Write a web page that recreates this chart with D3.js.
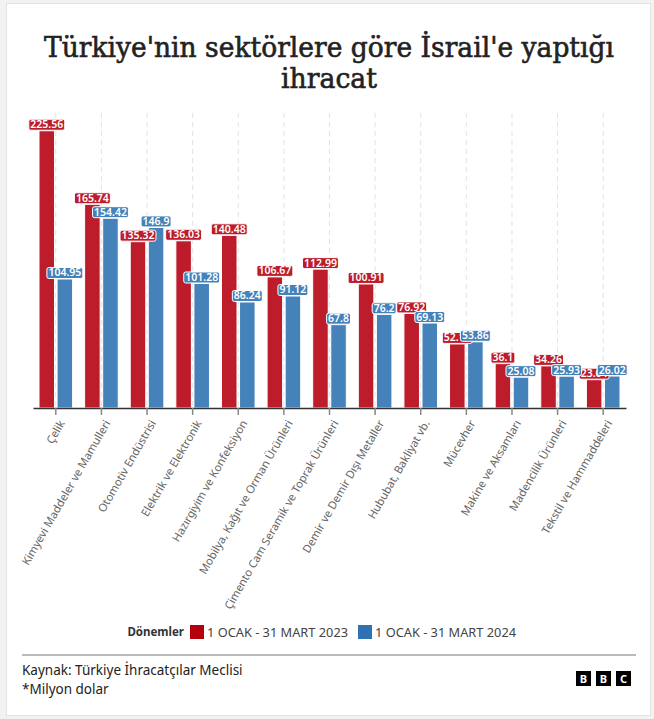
<!DOCTYPE html>
<html>
<head>
<meta charset="utf-8">
<script src="https://cdn.jsdelivr.net/npm/d3@7"></script>
<style>
  html, body { margin: 0; padding: 0; background: #f2f2f2; }
  svg { display: block; }
</style>
</head>
<body>
<svg id="chart" width="654" height="719"></svg>
<script>
const categories = [
  "Çelik",
  "Kimyevi Maddeler ve Mamulleri",
  "Otomotiv Endüstrisi",
  "Elektrik ve Elektronik",
  "Hazırgiyim ve Konfeksiyon",
  "Mobilya, Kağıt ve Orman Ürünleri",
  "Çimento Cam Seramik ve Toprak Ürünleri",
  "Demir ve Demir Dışı Metaller",
  "Hububat, Bakliyat vb.",
  "Mücevher",
  "Makine ve Aksamları",
  "Madencilik Ürünleri",
  "Tekstil ve Hammaddeleri"
];
const series2023 = [225.56, 165.74, 135.32, 136.03, 140.48, 106.67, 112.99, 100.91, 76.92, 52.13, 36.1, 34.26, 23.04];
const series2024 = [104.95, 154.42, 146.9, 101.28, 86.24, 91.12, 67.8, 76.2, 69.13, 53.86, 25.08, 25.93, 26.02];
const seriesNames = ["1 OCAK - 31 MART 2023", "1 OCAK - 31 MART 2024"];
const barColors = ["#bd1d2b", "#4582b9"];
const legendColors = ["#b5000e", "#2f71b2"];
const titleLines = ["Türkiye'nin sektörlere göre İsrail'e yaptığı", "ihracat"];
const legendTitle = "Dönemler";
const sourceLines = ["Kaynak: Türkiye İhracatçılar Meclisi", "*Milyon dolar"];

const seriesData = [series2023, series2024];
const svg = d3.select("#chart");

// card
svg.append("rect").attr("x", 6.5).attr("y", 3.5).attr("width", 644).attr("height", 712)
  .attr("fill", "#fff").attr("stroke", "#e3e3e3");

// title
const tLens = [570, 96];
titleLines.forEach((t, i) => {
  svg.append("text").attr("x", 329).attr("y", 57 + i * 31)
    .attr("text-anchor", "middle")
    .attr("font-family", "'DejaVu Serif', serif")
    .attr("font-size", 27).attr("font-weight", 400)
    .attr("fill", "#222").attr("stroke", "#222").attr("stroke-width", 0.6)
    .attr("textLength", tLens[i]).attr("lengthAdjust", "spacingAndGlyphs")
    .text(t);
});

const x0 = d3.scaleBand().domain(categories).range([33, 626]).padding(0);
const x1 = d3.scaleBand().domain([0, 1]).range([6, x0.bandwidth() - 6]).paddingInner(0.14);
const y = d3.scaleLinear().domain([0, 240]).range([408, 113]);

// gridlines
svg.append("g").selectAll("line").data(categories).join("line")
  .attr("x1", d => x0(d) + x0.bandwidth() / 2).attr("x2", d => x0(d) + x0.bandwidth() / 2)
  .attr("y1", y.range()[1]).attr("y2", y(0))
  .attr("stroke", "#e2e2e2").attr("stroke-dasharray", "5,4");

// bars
const groups = svg.append("g").selectAll("g").data(categories).join("g")
  .attr("transform", d => `translate(${x0(d)},0)`);
groups.selectAll("rect").data((d, i) => [0, 1].map(s => ({ s, v: seriesData[s][i] }))).join("rect")
  .attr("x", d => x1(d.s)).attr("width", x1.bandwidth())
  .attr("y", d => y(d.v)).attr("height", d => y(0) - y(d.v))
  .attr("fill", d => barColors[d.s]).attr("stroke", "#fff").attr("stroke-width", 1);

// axis
const axis = d3.axisBottom(x0).tickSize(7).tickSizeOuter(0).tickPadding(4);
const ax = svg.append("g").attr("transform", `translate(0,${y(0)})`).call(axis);
ax.select(".domain").attr("stroke", "#333").attr("stroke-width", 1.5);
ax.selectAll(".tick line").attr("stroke", "#888").attr("stroke-width", 1.5);
ax.selectAll(".tick text")
  .attr("font-family", "'Noto Sans', sans-serif").attr("font-size", 11.2).attr("fill", "#666")
  .attr("text-anchor", "end").attr("x", 0).attr("y", 0).attr("dy", "0.35em")
  .attr("transform", "translate(6,13) rotate(-60)");

// value labels (series 2024 drawn last on top)
[0, 1].forEach(s => {
  const lg = svg.append("g");
  categories.forEach((c, i) => {
    const v = seriesData[s][i];
    const cx = x0(c) + x1(s) + x1.bandwidth() / 2;
    const g = lg.append("g");
    const txt = g.append("text").attr("x", cx).attr("y", y(v) - 2.5)
      .attr("text-anchor", "middle")
      .attr("font-family", "'Noto Sans', sans-serif").attr("font-size", 10.5).attr("font-weight", 600)
      .attr("fill", "#fff").text(String(v));
    const bb = txt.node().getBBox();
    g.insert("rect", "text")
      .attr("x", bb.x - 1.5).attr("y", bb.y + 2).attr("width", bb.width + 3).attr("height", bb.height - 3)
      .attr("rx", 2).attr("fill", barColors[s]).attr("stroke", "#fff").attr("stroke-width", 1);
  });
});

// legend
const legend = svg.append("g").attr("font-family", "'Noto Sans', sans-serif");
legend.append("text").attr("x", 184).attr("y", 636).attr("text-anchor", "end")
  .attr("font-size", 11.5).attr("font-weight", 700)
  .attr("fill", "#333").text(legendTitle);
const legX = [190, 358];
seriesNames.forEach((n, i) => {
  legend.append("rect").attr("x", legX[i]).attr("y", 625).attr("width", 14).attr("height", 14).attr("fill", legendColors[i]);
  legend.append("text").attr("x", legX[i] + 17).attr("y", 636.5).attr("font-size", 12.8).attr("fill", "#444").text(n);
});

// footer
svg.append("line").attr("x1", 22).attr("x2", 636).attr("y1", 655).attr("y2", 655).attr("stroke", "#777");
sourceLines.forEach((t, i) => {
  svg.append("text").attr("x", 22).attr("y", 675 + i * 19)
    .attr("font-family", "'Noto Sans', sans-serif").attr("font-size", 13.5).attr("fill", "#222").text(t);
});
const logo = svg.append("g");
["B", "B", "C"].forEach((l, i) => {
  logo.append("rect").attr("x", 576 + i * 20).attr("y", 671).attr("width", 15).attr("height", 15).attr("fill", "#000");
  logo.append("text").attr("x", 583.5 + i * 20).attr("y", 682.5).attr("text-anchor", "middle")
    .attr("font-family", "'Noto Sans', sans-serif").attr("font-size", 11).attr("font-weight", 700)
    .attr("fill", "#fff").text(l);
});
</script>
</body>
</html>
